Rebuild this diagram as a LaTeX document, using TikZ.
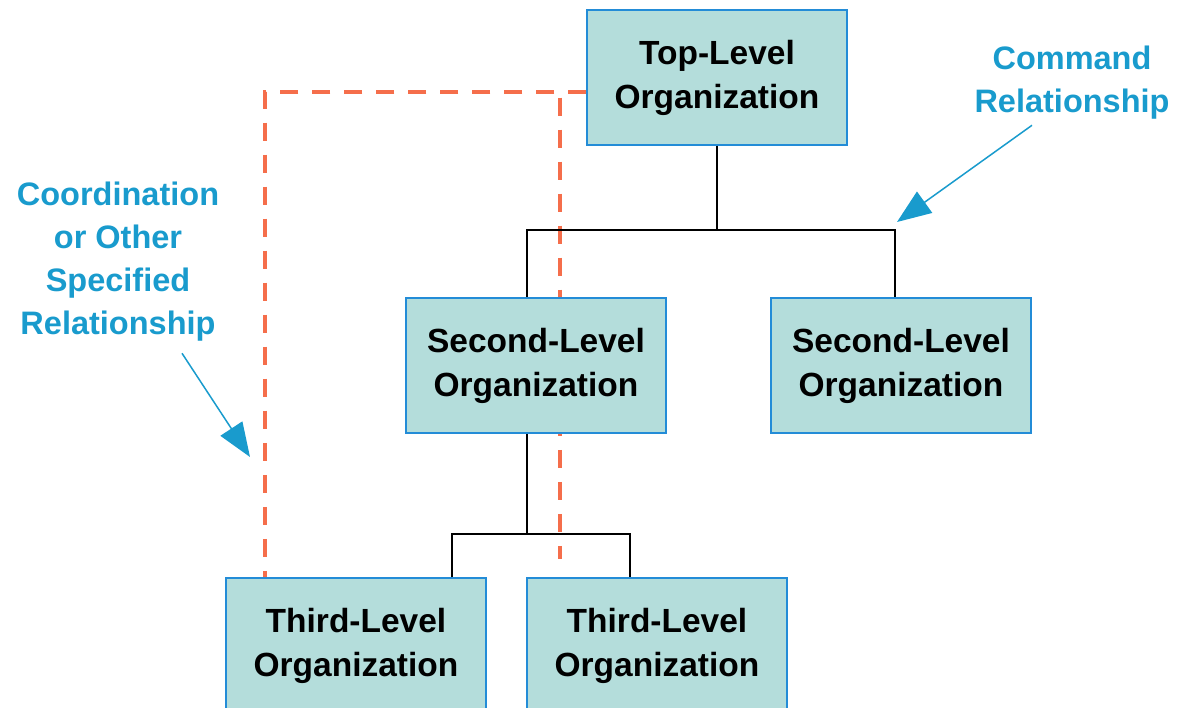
\documentclass[tikz,border=0pt]{standalone}
\usepackage{fontspec}
\setmainfont{Liberation Sans}
\usepackage{tikz}
\usetikzlibrary{arrows.meta,backgrounds}
\definecolor{box_fill}{RGB}{180,221,219}
\definecolor{box_edge}{RGB}{35,140,215}
\definecolor{note_blue}{RGB}{25,155,205}
\definecolor{coord_red}{RGB}{245,110,75}

\begin{document}
\begin{tikzpicture}[x=1pt,y=-1pt,semithick]
    \tikzstyle{org}=[draw=box_edge, line width=1.5pt, fill=box_fill, minimum width=260pt, minimum height=135pt, align=center, text=black, font=\bfseries\fontsize{33.5}{44}\selectfont]
    \tikzstyle{note}=[align=center, text=note_blue, font=\bfseries\fontsize{32.5}{43}\selectfont]
    \tikzstyle{tree}=[black, line width=1.6pt]
    \tikzstyle{pointer}=[note_blue, line width=1.5pt, -{Triangle[length=34pt,width=26pt]}]
    \tikzstyle{coord}=[coord_red, line width=3.5pt, dash pattern=on 18pt off 14pt]

    \useasboundingbox (0,0) rectangle (1178,708);

    \node[org] (top)  at (717,77.5)  {Top-Level\\Organization};
    \node[org] (sec1) at (536,365.5) {Second-Level\\Organization};
    \node[org] (sec2) at (901,365.5) {Second-Level\\Organization};
    \node[org] (thr1) at (356,645.5) {Third-Level\\Organization};
    \node[org] (thr2) at (657,645.5) {Third-Level\\Organization};

    \node[note] (cmd) at (1072,83)  {Command\\Relationship};
    \node[note] (crd) at (118,262)  {Coordination\\or Other\\Specified\\Relationship};

    \coordinate (j1)     at (717,230);
    \coordinate (j2)     at (536,534);
    \coordinate (cmdtip) at (897,222);
    \coordinate (crdtip) at (250,457);

    % command lines
    \draw[tree] (top) -- (j1);
    \draw[tree] ([xshift=-9pt]sec1.north) |- (j1) -| ([xshift=-6pt]sec2.north);
    \draw[tree] ([xshift=-9pt]sec1.south) -- ([xshift=-9pt]j2);
    \draw[tree] ([xshift=96pt]thr1.north) |- ([xshift=-9pt]j2) -| ([xshift=-27pt]thr2.north);

    % coordination lines
    \begin{scope}[on background layer]
    \draw[coord] ([yshift=-14.5pt]top.west) -| ([xshift=-91pt]thr1.north);
    \draw[coord] ([yshift=-14.5pt]top.west) -| ([xshift=-97pt,yshift=18pt]thr2.north);
    \end{scope}

    \draw[pointer] ([xshift=-40pt,yshift=-2pt]cmd.south) -- (cmdtip);
    \draw[pointer] ([xshift=64pt,yshift=-8pt]crd.south) -- (crdtip);
\end{tikzpicture}
\end{document}
